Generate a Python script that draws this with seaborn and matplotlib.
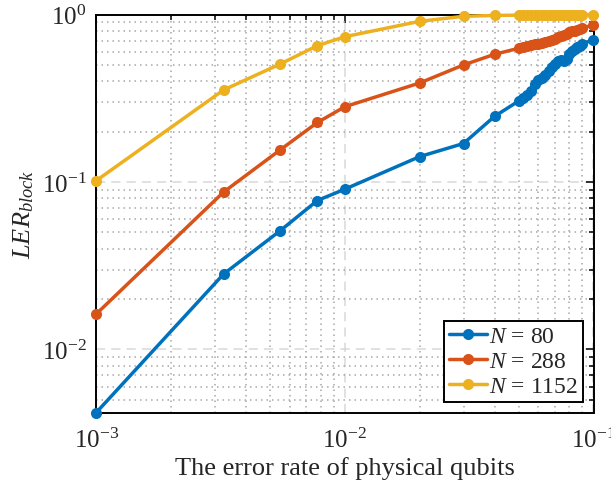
import matplotlib
matplotlib.use("Agg")
import matplotlib.pyplot as plt
import seaborn as sns
import pandas as pd
from matplotlib.lines import Line2D

# ---- data ----
p = [0.001, 0.00325, 0.0055, 0.00775, 0.01, 0.02, 0.03, 0.04,
     0.050, 0.052, 0.054, 0.056, 0.058, 0.060, 0.062, 0.064, 0.066, 0.068, 0.070,
     0.072, 0.074, 0.076, 0.078, 0.080, 0.082, 0.084, 0.086, 0.088, 0.090, 0.100]

ler_80 = [0.0042, 0.0282, 0.0513, 0.0776, 0.0907, 0.142, 0.170, 0.247,
          0.305, 0.318, 0.332, 0.350, 0.383, 0.405, 0.420, 0.438, 0.458, 0.485, 0.510,
          0.528, 0.535, 0.532, 0.545, 0.580, 0.605, 0.620, 0.640, 0.650, 0.668, 0.710]

ler_288 = [0.0163, 0.0871, 0.156, 0.227, 0.282, 0.391, 0.501, 0.580,
           0.630, 0.640, 0.650, 0.655, 0.665, 0.672, 0.680, 0.688, 0.698, 0.708, 0.720,
           0.732, 0.745, 0.760, 0.772, 0.783, 0.795, 0.802, 0.812, 0.822, 0.832, 0.868]

ler_1152 = [0.102, 0.355, 0.508, 0.653, 0.739, 0.913, 0.978, 0.990,
            0.994, 0.995, 0.995, 0.996, 0.996, 0.997, 0.997, 0.997, 0.998, 0.998, 0.998,
            0.998, 0.999, 0.999, 0.999, 0.999, 0.999, 1.0, 1.0, 1.0, 1.0, 1.0]

sizes = [80, 288, 1152]
series = [ler_80, ler_288, ler_1152]
labels = [r"$N$ = 80", r"$N$ = 288", r"$N$ = 1152"]
colors = ["#0072BD", "#D95319", "#EDB120"]

df = pd.concat([pd.DataFrame({"p": p, "ler": s, "N": n}) for s, n in zip(series, sizes)],
               ignore_index=True)

sns.set_theme(style="white")
plt.rcParams["font.family"] = ["Liberation Serif", "DejaVu Serif"]
plt.rcParams["mathtext.fontset"] = "custom"
plt.rcParams["mathtext.rm"] = "Liberation Serif"
plt.rcParams["mathtext.it"] = "Liberation Serif:italic"
plt.rcParams["mathtext.bf"] = "Liberation Serif:bold"

fig = plt.figure(figsize=(6.11, 4.89), dpi=100)
ax = fig.add_axes([96.3 / 611, 1 - 413.5 / 489, (593.5 - 96.3) / 611, (413.5 - 15.7) / 489])

MS = 8.0
LW = 2.5
sns.lineplot(data=df, x="p", y="ler", hue="N", palette=colors, estimator=None,
             marker="o", markersize=MS, markeredgewidth=0, linewidth=LW,
             legend=False, ax=ax, clip_on=False, zorder=3)

ax.set_xscale("log")
ax.set_yscale("log")
ax.set_xlim(1e-3, 1e-1)
ax.set_ylim(0.0042, 1.0)

ax.grid(which="major", linestyle=(0, (6, 4)), color="#d9d9d9", linewidth=1.1)
ax.grid(which="minor", linestyle=(0, (1, 2.6)), color="#a8a8a8", linewidth=1.1)
ax.set_axisbelow(True)

ax.tick_params(which="both", direction="in", top=True, right=True, colors="black",
               labelsize=18, width=1.1)
ax.tick_params(which="major", length=6)
ax.tick_params(axis="x", which="major", pad=11)
ax.tick_params(axis="y", which="major", pad=7)
ax.tick_params(which="minor", length=3.5)
for sp in ax.spines.values():
    sp.set_color("black")
    sp.set_linewidth(1.4)
for t in ax.get_xticklabels() + ax.get_yticklabels():
    t.set_color("#262626")

ax.set_xlabel("The error rate of physical qubits", fontsize=19, color="#262626", labelpad=3)
ax.set_ylabel(r"$\mathit{LER}_{\mathit{block}}$", fontsize=19, color="#262626", labelpad=4)

handles = [Line2D([], [], color=c, marker="o", markersize=MS, markeredgewidth=0, linewidth=LW)
           for c in colors]
leg = ax.legend(handles, labels, loc="lower right", fontsize=17, frameon=True,
                fancybox=False, framealpha=1, edgecolor="black", handlelength=1.6,
                handletextpad=0.1, borderpad=0.2, labelspacing=0.15,
                borderaxespad=0.45)
leg.get_frame().set_linewidth(1.4)
for t in leg.get_texts():
    t.set_color("#262626")

fig.savefig("out.png", dpi=100)
